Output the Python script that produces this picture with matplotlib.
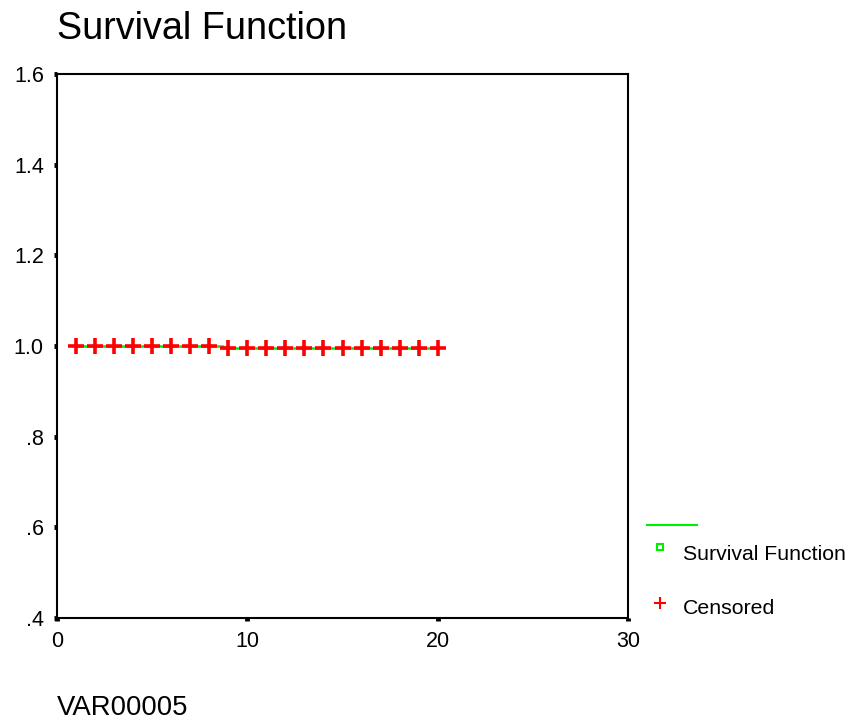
import numpy as np
import matplotlib
matplotlib.use("Agg")
import matplotlib.pyplot as plt
from matplotlib.lines import Line2D

plt.rcParams['font.family'] = ['Liberation Sans', 'DejaVu Sans']

# survival step function (time, cumulative survival)
step_times = [0, 8.7, 20]
step_surv = [1.0, 0.996, 0.996]

# censored cases
censor_times = [1, 2, 3, 4, 5, 6, 7, 8, 9, 10, 11, 12, 13, 14, 15, 16, 17, 18, 19, 20]
censor_surv = [1.0] * 8 + [0.996] * 12

x_ticks = [0, 10, 20, 30]
x_labels = ["0", "10", "20", "30"]
y_ticks = [0.4, 0.6, 0.8, 1.0, 1.2, 1.4, 1.6]
y_labels = [".4", ".6", ".8", "1.0", "1.2", "1.4", "1.6"]


def main():
    fig = plt.figure(figsize=(8.53, 7.23), dpi=100)
    ax = fig.add_axes([57 / 853, 1 - 618 / 723, (628 - 57) / 853, (618 - 74) / 723])

    # line starts at first case
    ax.step([1] + step_times[1:], step_surv, where="post", color="#00ee00", lw=1.8, zorder=2)
    ax.plot(censor_times, censor_surv, ls="none", marker="+", ms=11, mew=2.6,
            color="#ff0000", zorder=3)

    ax.set_xlim(0, 30)
    ax.set_ylim(0.4, 1.6)
    ax.set_xticks(x_ticks)
    ax.set_xticklabels(x_labels)
    ax.set_yticks(y_ticks)
    ax.set_yticklabels(y_labels)
    ax.tick_params(direction="out", length=2.5, width=3.5, pad=7, labelsize=15.5, colors="black")
    for s in ax.spines.values():
        s.set_linewidth(1.5)

    fig.text(57 / 853, 1 - 29 / 723, "Survival Function", fontsize=27.2, va="center", ha="left")
    fig.text(57 / 853, 1 - 708 / 723, "VAR00005", fontsize=19.8, va="center", ha="left")

    # legend drawn by hand, as in the original output
    fig.add_artist(Line2D([647 / 853, 697 / 853], [1 - 525 / 723] * 2, color="#00ee00", lw=1.5))
    fig.add_artist(Line2D([660 / 853], [1 - 547 / 723], marker="s", ms=5, mfc="none",
                          mec="#00ee00", mew=1.5, ls="none"))
    fig.text(683 / 853, 1 - 554 / 723, "Survival Function", fontsize=15.3, va="center", ha="left")
    fig.add_artist(Line2D([660 / 853], [1 - 603 / 723], marker="+", ms=9, mew=1.5,
                          color="#ff0000", ls="none"))
    fig.text(683 / 853, 1 - 608 / 723, "Censored", fontsize=15.3, va="center", ha="left")

    fig.savefig("out.png", dpi=100)
    plt.close(fig)


if __name__ == "__main__":
    main()
